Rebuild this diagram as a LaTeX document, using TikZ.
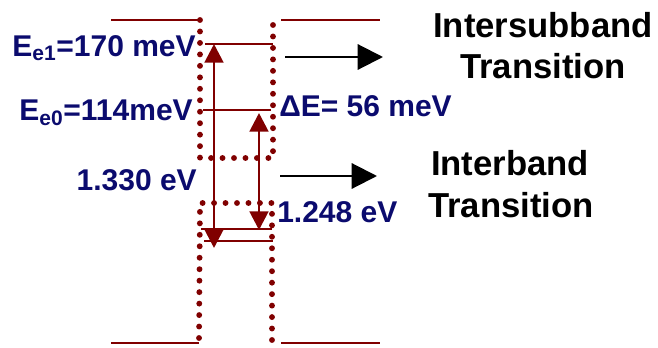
\documentclass[tikz,border=0pt]{standalone}
\usepackage{fontspec}
\setmainfont{Liberation Sans}
\setsansfont{Liberation Sans}
\usetikzlibrary{arrows.meta}

\begin{document}
\begin{tikzpicture}[
    x=0.75pt, y=-0.75pt,
    every node/.style={font=\sffamily\bfseries, inner sep=0pt},
    barrier/.style={wellred, line width=1.2pt},
    wall/.style={wellred, line width=4.4pt, line cap=round,
                 dash pattern=on 0pt off 8.6pt},
    level/.style={wellred, line width=2.2pt},
    transition/.style={wellred, line width=2.2pt,
        {Triangle[length=14pt, width=14pt]}-{Triangle[length=14pt, width=14pt]}},
    pointer/.style={black, line width=1.6pt, -{Triangle[length=19pt, width=19pt]}},
    value/.style={text=labelblue, font=\sffamily\bfseries\fontsize{22.5}{25}\selectfont},
    caption/.style={text=black, font=\sffamily\bfseries\fontsize{26}{30}\selectfont},
]

\definecolor{wellred}{HTML}{800000}
\definecolor{labelblue}{HTML}{0B0B6E}

% picture frame in pixels of the original, y counts downwards
\useasboundingbox (0,0) rectangle (658,347);

% ------------------------------------------------------------ barriers
\draw[barrier] (111,20) -- (200,20);
\draw[barrier] (281,20) -- (380,20);
\draw[barrier] (111,343) -- (199,343);
\draw[barrier] (281,343) -- (380,343);

% ------------------------------------------------------------ the well, conduction and valence side
\draw[wall] (200,20) -- (200,158) -- (273,158) -- (273,23);
\draw[wall] (272,340) -- (272,203) -- (200,203) -- (199,343);

% ------------------------------------------------------------ levels
\coordinate (e1l) at (205,44);  \coordinate (e1r) at (273,44);
\coordinate (e0l) at (203,110); \coordinate (e0r) at (271,110);
\coordinate (h0l) at (201,229); \coordinate (h0r) at (272,229);
\coordinate (h1l) at (204,241); \coordinate (h1r) at (273,241);
\draw[level] (e1l) -- (e1r);
\draw[level] (e0l) -- (e0r);
\draw[level] (h0l) -- (h0r);
\draw[level] (h1l) -- (h1r);

% ------------------------------------------------------------ transitions
\coordinate (ibtop) at (214,44);
\coordinate (ibbot) at (214,248);
\coordinate (sbtop) at (259,113);
\coordinate (sbbot) at (259,230);
\draw[transition] (ibbot) -- (ibtop);
\draw[transition] (sbbot) -- (sbtop);

% ------------------------------------------------------------ values
\node[value, anchor=base east] (ee1) at (196,56) {E\textsubscript{e1}=170 meV};
\node[value, anchor=base east] (ee0) at (193,120) {E\textsubscript{e0}=114meV};
\node[value, anchor=base east] (gapa) at (197,190) {1.330 eV};
\node[value, anchor=base west] (de) at (279,116) {ΔE= 56 meV};
\node[value, anchor=base west] (gapb) at (277,222) {1.248 eV};

% ------------------------------------------------------------ what each arrow is
\node[caption, anchor=base] (isb) at (543,37) {Intersubband};
\node[caption, anchor=base] (isbb) at (543,78) {Transition};
\node[caption, anchor=base] (ib) at (510,175) {Interband};
\node[caption, anchor=base] (ibb) at (511,217) {Transition};

\coordinate (isbfrom) at (285,57);
\coordinate (isbto) at (383,57);
\coordinate (ibfrom) at (280,176);
\coordinate (ibto) at (377,176);
\draw[pointer] (isbfrom) -- (isbto);
\draw[pointer] (ibfrom) -- (ibto);

\end{tikzpicture}
\end{document}
